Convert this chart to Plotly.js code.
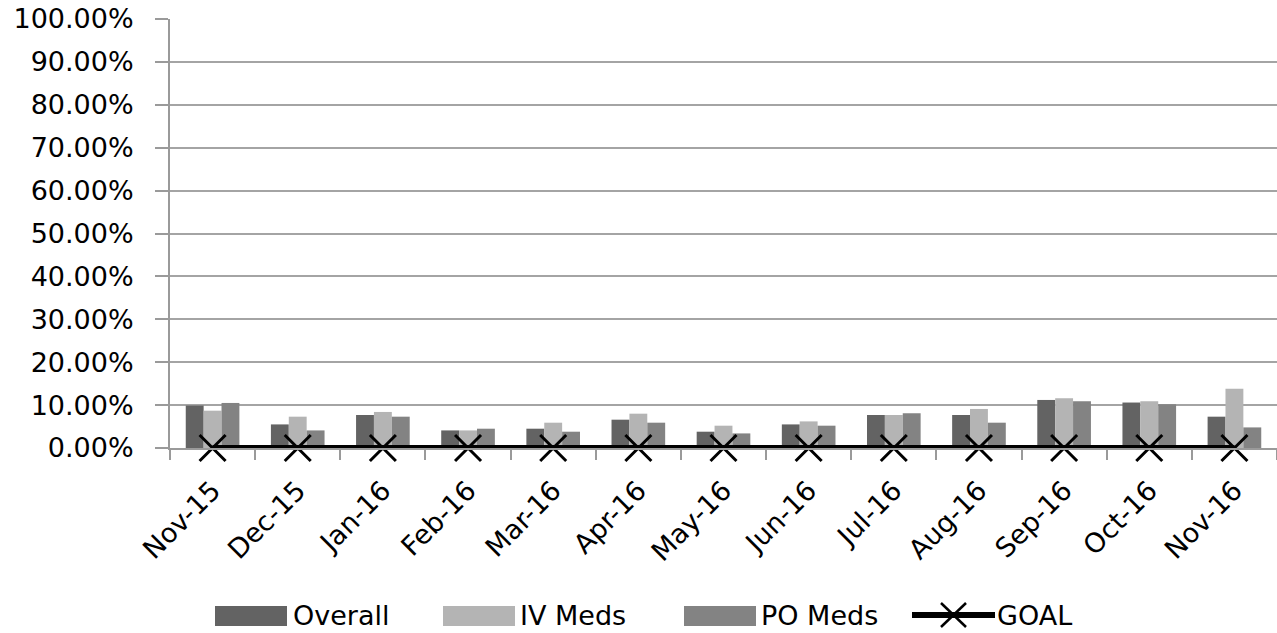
<!DOCTYPE html>
<html>
<head>
<meta charset="utf-8">
<script src="https://cdn.plot.ly/plotly-3.0.1.min.js"></script>
<style>
  html, body { margin: 0; padding: 0; background: #ffffff; }
  #chart { width: 1277px; height: 633px; }
</style>
</head>
<body>
<div id="chart"></div>
<script>
// Monthly rates, in percent
const months = ["Nov-15", "Dec-15", "Jan-16", "Feb-16", "Mar-16", "Apr-16", "May-16",
                "Jun-16", "Jul-16", "Aug-16", "Sep-16", "Oct-16", "Nov-16"];
const overall = [9.9, 5.5, 7.7, 4.1, 4.5, 6.6, 3.8, 5.5, 7.7, 7.7, 11.2, 10.6, 7.3];
const ivMeds  = [8.7, 7.3, 8.4, 4.1, 5.9, 8.0, 5.2, 6.2, 7.7, 9.1, 11.6, 10.9, 13.8];
const poMeds  = [10.5, 4.1, 7.3, 4.5, 3.8, 5.9, 3.4, 5.2, 8.1, 5.9, 10.9, 10.2, 4.8];
const goal    = [0, 0, 0, 0, 0, 0, 0, 0, 0, 0, 0, 0, 0];

const seriesNames = ["Overall", "IV Meds", "PO Meds", "GOAL"];
const colors = ["#636363", "#b4b4b4", "#838383", "#000000"];

const FONT = "'DejaVu Sans', sans-serif";
const FS = 27;

const traces = [
  { type: "bar", x: months, y: overall, name: seriesNames[0], marker: { color: colors[0] } },
  { type: "bar", x: months, y: ivMeds,  name: seriesNames[1], marker: { color: colors[1] } },
  { type: "bar", x: months, y: poMeds,  name: seriesNames[2], marker: { color: colors[2] } },
  {
    type: "scatter", mode: "lines+markers", x: months, y: goal, name: seriesNames[3],
    line: { color: colors[3], width: 6 },
    marker: { symbol: "x-thin-open", size: 26, color: colors[3], line: { color: colors[3], width: 3 } },
    cliponaxis: false
  }
];

// Plot area geometry in pixels (used to place the legend below the axis)
const W = 1277, H = 633;
const M = { l: 170, r: 0, t: 19, b: 185 };
const pw = W - M.l - M.r, ph = H - M.t - M.b;
const px = (x) => (x - M.l) / pw;
const py = (y) => (H - M.b - y) / ph;

// Custom legend: wide swatches as in a spreadsheet chart
const legendY = 615;
const legendItems = [
  { sx: 215, tx: 291 },
  { sx: 443, tx: 518 },
  { sx: 684, tx: 759 }
];
const shapes = [];
const annotations = [];
legendItems.forEach((it, i) => {
  shapes.push({
    type: "rect", xref: "paper", yref: "paper",
    x0: px(it.sx), x1: px(it.sx + 72), y0: py(legendY + 11), y1: py(legendY - 9),
    fillcolor: colors[i], line: { width: 0 }
  });
  annotations.push({
    xref: "paper", yref: "paper", x: px(it.tx), y: py(legendY), xanchor: "left", yanchor: "middle",
    text: seriesNames[i], showarrow: false, font: { family: FONT, size: FS, color: "#000" }
  });
});
// GOAL legend: thick line with a cross
shapes.push({
  type: "line", xref: "paper", yref: "paper",
  x0: px(912), x1: px(995), y0: py(legendY), y1: py(legendY),
  line: { color: "#000", width: 6 }
});
shapes.push({
  type: "line", xref: "paper", yref: "paper",
  x0: px(941), x1: px(966), y0: py(legendY - 12), y1: py(legendY + 12),
  line: { color: "#000", width: 2.5 }
});
shapes.push({
  type: "line", xref: "paper", yref: "paper",
  x0: px(941), x1: px(966), y0: py(legendY + 12), y1: py(legendY - 12),
  line: { color: "#000", width: 2.5 }
});
annotations.push({
  xref: "paper", yref: "paper", x: px(995), y: py(legendY), xanchor: "left", yanchor: "middle",
  text: seriesNames[3], showarrow: false, font: { family: FONT, size: FS, color: "#000" }
});

const layout = {
  width: W, height: H,
  margin: M,
  paper_bgcolor: "#ffffff", plot_bgcolor: "#ffffff",
  font: { family: FONT, size: FS, color: "#000" },
  barmode: "group", bargap: 0.37, bargroupgap: 0,
  showlegend: false,
  xaxis: {
    type: "category",
    automargin: false,
    range: [-0.5, months.length - 0.5],
    tickangle: -45,
    ticks: "outside", tickson: "boundaries", ticklen: 10, tickwidth: 2, tickcolor: "#9a9a9a",
    showline: true, linecolor: "#9a9a9a", linewidth: 2,
    showgrid: false,
    tickfont: { family: FONT, size: FS, color: "#000" },
    ticklabelstandoff: 14,
    ticklabeloverflow: "allow"
  },
  yaxis: {
    automargin: false,
    range: [0, 100], dtick: 10, tick0: 0,
    tickformat: ".2f", ticksuffix: "%",
    ticks: "outside", ticklen: 13, tickwidth: 2, tickcolor: "#9a9a9a",
    showline: true, linecolor: "#9a9a9a", linewidth: 2,
    showgrid: true, gridcolor: "#a4a4a4", gridwidth: 2,
    zeroline: false,
    tickfont: { family: FONT, size: FS, color: "#000" },
    ticklabelstandoff: 16,
    ticklabeloverflow: "allow"
  },
  shapes: shapes,
  annotations: annotations
};

Plotly.newPlot("chart", traces, layout, { displayModeBar: false, staticPlot: true });
</script>
</body>
</html>
